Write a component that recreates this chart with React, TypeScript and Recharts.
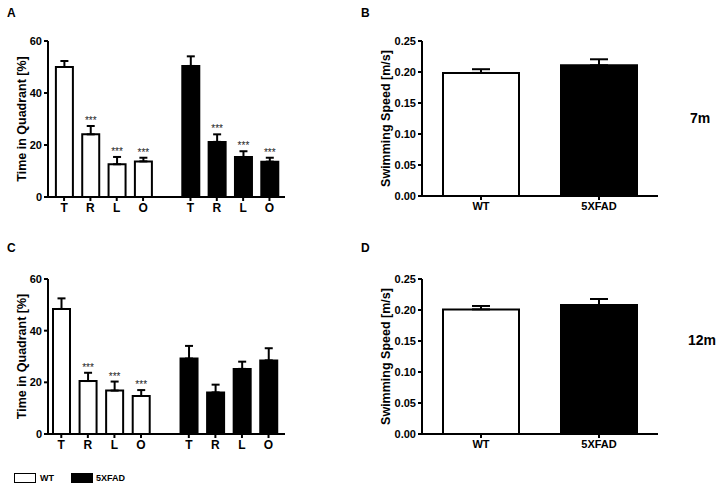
import { BarChart, Bar, XAxis, YAxis, ErrorBar, Cell, LabelList, Label } from 'recharts';

const QUADRANTS = ['T', 'R', 'L', 'O'];
const GENOTYPES = ['WT', '5XFAD'];

// 7 months - probe trial
const wt7Mean = [50.0, 24.1, 12.6, 13.7];
const wt7Sem = [2.3, 3.2, 2.8, 1.4];
const fad7Mean = [50.4, 21.2, 15.4, 13.6];
const fad7Sem = [3.7, 2.9, 2.2, 1.5];
const wt7Stars = ['', '***', '***', '***'];
const fad7Stars = ['', '***', '***', '***'];

// 12 months - probe trial
const wt12Mean = [48.4, 20.5, 16.8, 14.7];
const wt12Sem = [4.1, 3.2, 3.5, 2.3];
const fad12Mean = [29.2, 16.1, 25.2, 28.5];
const fad12Sem = [4.9, 3.0, 2.8, 4.7];
const wt12Stars = ['', '***', '***', '***'];
const fad12Stars = ['', '', '', ''];

// swimming speed
const speed7Mean = [0.1985, 0.2108];
const speed7Sem = [0.006, 0.0097];
const speed12Mean = [0.201, 0.208];
const speed12Sem = [0.0055, 0.0097];

const FONT = '"Liberation Sans", Arial, sans-serif';
const GROUP_GAP = 0.8;
const QUAD_TICKS = [0, 20, 40, 60];
const SPEED_TICKS = [0, 0.05, 0.1, 0.15, 0.2, 0.25];

interface QuadRow {
  x: number;
  label: string;
  value: number;
  sem: number;
  err: [number, number];
  stars: string;
  fad: boolean;
}

function buildQuadRows(wtM: number[], wtS: number[], fadM: number[], fadS: number[], wtSt: string[], fadSt: string[]) {
  const rows: QuadRow[] = [];
  QUADRANTS.forEach((q, i) => {
    rows.push({ x: i + 1, label: q, value: wtM[i], sem: wtS[i], err: [0, wtS[i]], stars: wtSt[i], fad: false });
  });
  QUADRANTS.forEach((q, i) => {
    rows.push({ x: i + 5 + GROUP_GAP, label: q, value: fadM[i], sem: fadS[i], err: [0, fadS[i]], stars: fadSt[i], fad: true });
  });
  return rows;
}

const starsRenderer = (rows: QuadRow[]) => (props: any) => {
  const { x, y, width, height, index } = props;
  const row = rows[index];
  if (!row || !row.stars) return null;
  const perUnit = Number(height) / row.value;
  const top = Number(y) - row.sem * perUnit;
  return (
    <text x={Number(x) + Number(width) / 2} y={top - 2} textAnchor="middle" fontSize={10} fill="#222" fontFamily={FONT}>
      {row.stars}
    </text>
  );
};

const axisProps = {
  stroke: '#000',
  strokeWidth: 2,
  tickSize: 4,
};

function QuadrantChart({ rows, domain, top, marginTop, marginBottom }: { rows: QuadRow[]; domain: [number, number]; top: number; marginTop: number; marginBottom: number }) {
  const labelFor = (v: number) => rows.find((r) => Math.abs(r.x - v) < 1e-6)?.label ?? '';
  return (
    <div style={{ position: 'absolute', left: 0, top }}>
      <BarChart width={300} height={230} data={rows} margin={{ top: marginTop, right: 15, bottom: marginBottom, left: 0 }}>
        <XAxis
          dataKey="x"
          type="number"
          domain={domain}
          ticks={rows.map((r) => r.x)}
          tickFormatter={labelFor}
          height={25}
          {...axisProps}
          tick={{ fontSize: 12, fontWeight: 'bold', fill: '#000', fontFamily: FONT }}
        />
        <YAxis
          domain={[0, 60]}
          ticks={QUAD_TICKS}
          width={48}
          {...axisProps}
          tick={{ fontSize: 11, fontWeight: 'bold', fill: '#000', fontFamily: FONT }}
        >
          <Label
            value="Time in Quadrant [%]"
            angle={-90}
            position="insideLeft"
            offset={22}
            style={{ textAnchor: 'middle', fontSize: 12.5, fontWeight: 'bold', fill: '#000', fontFamily: FONT }}
          />
        </YAxis>
        <Bar dataKey="value" barSize={17} stroke="#000" strokeWidth={2} isAnimationActive={false}>
          {rows.map((r, i) => (
            <Cell key={i} fill={r.fad ? '#000' : '#fff'} />
          ))}
          <ErrorBar dataKey="err" width={4} stroke="#000" strokeWidth={2} isAnimationActive={false} />
          <LabelList dataKey="stars" content={starsRenderer(rows)} />
        </Bar>
      </BarChart>
    </div>
  );
}

function SpeedChart({ mean, sem, top, marginTop, marginBottom }: { mean: number[]; sem: number[]; top: number; marginTop: number; marginBottom: number }) {
  const rows = GENOTYPES.map((g, i) => ({ name: g, value: mean[i], err: [0, sem[i]], fad: i === 1 }));
  return (
    <div style={{ position: 'absolute', left: 360, top }}>
      <BarChart width={320} height={230} data={rows} margin={{ top: marginTop, right: 22, bottom: marginBottom, left: 0 }}>
        <XAxis
          dataKey="name"
          height={25}
          {...axisProps}
          tick={{ fontSize: 11, fontWeight: 'bold', fill: '#000', fontFamily: FONT }}
        />
        <YAxis
          domain={[0, 0.25]}
          ticks={SPEED_TICKS}
          tickFormatter={(v) => Number(v).toFixed(2)}
          width={62}
          {...axisProps}
          tick={{ fontSize: 11, fontWeight: 'bold', fill: '#000', fontFamily: FONT }}
        >
          <Label
            value="Swimming Speed [m/s]"
            angle={-90}
            position="insideLeft"
            offset={26}
            style={{ textAnchor: 'middle', fontSize: 12.5, fontWeight: 'bold', fill: '#000', fontFamily: FONT }}
          />
        </YAxis>
        <Bar dataKey="value" barSize={76} stroke="#000" strokeWidth={2} isAnimationActive={false}>
          {rows.map((r, i) => (
            <Cell key={i} fill={r.fad ? '#000' : '#fff'} />
          ))}
          <ErrorBar dataKey="err" width={9} stroke="#000" strokeWidth={2} isAnimationActive={false} />
        </Bar>
      </BarChart>
    </div>
  );
}

const textStyle = (left: number, top: number, size: number): React.CSSProperties => ({
  position: 'absolute',
  left,
  top,
  fontSize: size,
  lineHeight: 1,
  fontWeight: 'bold',
  fontFamily: FONT,
  color: '#000',
  whiteSpace: 'nowrap',
});

export default function App() {
  const rowsA = buildQuadRows(wt7Mean, wt7Sem, fad7Mean, fad7Sem, wt7Stars, fad7Stars);
  const rowsC = buildQuadRows(wt12Mean, wt12Sem, fad12Mean, fad12Sem, wt12Stars, fad12Stars);

  return (
    <div style={{ position: 'absolute', left: 0, top: 0, width: 722, height: 486, background: '#fff', fontFamily: FONT }}>
      <QuadrantChart rows={rowsA} domain={[0.39, 9.39]} top={0} marginTop={41} marginBottom={8} />
      <QuadrantChart rows={rowsC} domain={[0.5, 9.42]} top={240} marginTop={39} marginBottom={11} />
      <SpeedChart mean={speed7Mean} sem={speed7Sem} top={0} marginTop={41} marginBottom={9} />
      <SpeedChart mean={speed12Mean} sem={speed12Sem} top={240} marginTop={39} marginBottom={11} />

      <div style={textStyle(7, 6.5, 12)}>A</div>
      <div style={textStyle(361, 6.5, 12)}>B</div>
      <div style={textStyle(7, 242, 12)}>C</div>
      <div style={textStyle(361, 242, 12)}>D</div>

      <div style={textStyle(690, 111, 14)}>7m</div>
      <div style={textStyle(688, 333, 14)}>12m</div>

      <div style={{ position: 'absolute', left: 14, top: 473, width: 20, height: 8, border: '1.5px solid #000', background: '#fff' }} />
      <div style={textStyle(40, 473.5, 9)}>WT</div>
      <div style={{ position: 'absolute', left: 71, top: 473, width: 20, height: 8, border: '1.5px solid #000', background: '#000' }} />
      <div style={textStyle(96, 473.5, 9)}>5XFAD</div>
    </div>
  );
}
